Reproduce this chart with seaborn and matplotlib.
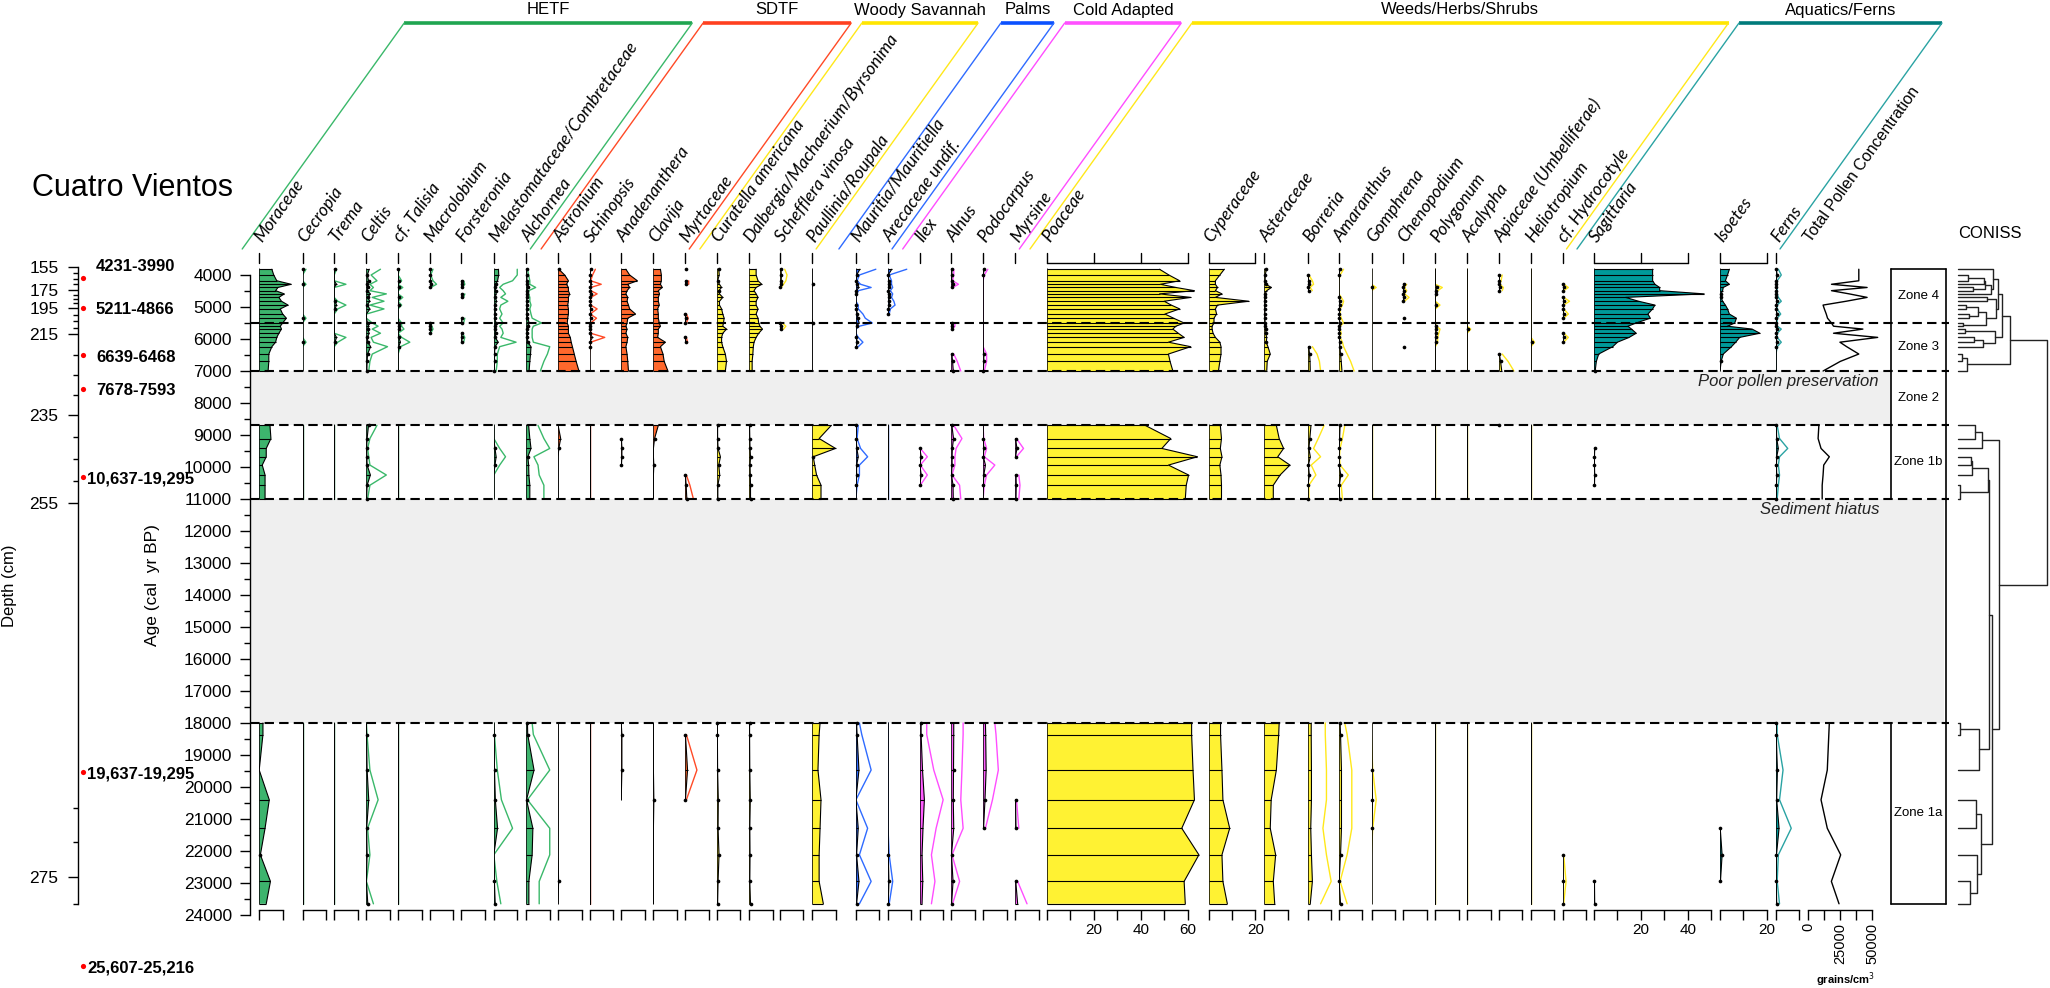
import numpy as np
import matplotlib
matplotlib.use("Agg")
import matplotlib.pyplot as plt
import matplotlib.transforms as mtransforms
import seaborn as sns

sns.set_theme(style="white")
plt.rcParams["font.family"] = ["Liberation Sans", "DejaVu Sans"]
plt.rcParams.update({"text.color": "black", "axes.edgecolor": "black", "xtick.color": "black",
                     "ytick.color": "black", "axes.labelcolor": "black", "axes.linewidth": 1.0})

n = np.nan

# ----------------------------------------------------------------- data
ages = [3820, 4000, 4180, 4290, 4390, 4490, 4590, 4700, 4820, 4940, 5060, 5220,
        5350, 5500, 5600, 5690, 5820, 5950, 6100, 6240, 6470, 6700, 7000,
        8700, 9110, 9420, 9680, 9940, 10250, 10570, 11000,
        18000, 18360, 19470, 20400, 21290, 22120, 22950, 23650]

zone_breaks = [5500, 7000, 8700, 11000, 18000]
zone_names = ["Zone 4", "Zone 3", "Zone 2", "Zone 1b", "Zone 1a"]
zone_spans = [(3820, 5500), (5500, 7000), (7000, 8700), (8700, 11000), (18000, 23650)]
gaps = [(7000, 8700), (11000, 18000)]
gap_notes = ["Poor pollen preservation", "Sediment hiatus"]

depth_model = [155, 175, 195, 215, 235, 255, 265, 270, 275, 280, 285]
age_model = [3763, 4469, 5031, 5853, 8388, 11113, 20666, 21709, 22803, 23656, 25594]
depth_major = [155, 175, 195, 215, 235, 255, 275]
date_depths = [164.6, 195, 220.2, 228.4, 249.2, 263.8, 285]
date_labels = ["4231-3990", "5211-4866", "6639-6468", "7678-7593",
               "10,637-19,295", "19,637-19,295", "25,607-25,216"]

moraceae = ([5.4, 6.2, 7.5, 13.6, 8.0, 7.0, 10.7, 8.4, 9.5, 12.3, 9.0, 10.0, 11.6, 10.0, 9.0, 9.5, 8.4, 7.5, 7.0, 5.4, 4.1, 4.1, 3.8]
            + [4.6, 5.0, 3.0, 3.0, 1.3, 2.5, 2.5, 2.5] + [1.6, 1.6, 0.0, 4.3, 2.5, 0.5, 4.8, 3.0])
cecropia = [0.3, 0, 0, 0.3, 0, 0, 0, 0, 0, 0, 0, 0, 0.3, 0, 0, 0, 0, 0, 0.3, 0, 0, 0, 0] + [0] * 8 + [0] * 8
trema = [0.2, 0, 0, 1.0, 0, 0, 0, 0, 0.3, 1.0, 0.3, 0, 0, 0, 0, 0, 0, 1.0, 0.3, 0, 0, 0, 0] + [0] * 8 + [0] * 8
celtis = ([1.2, 0.4, 0.9, 0.3, 0.6, 0.3, 1.7, 0.5, 1.5, 0.3, 1.5, 0, 0, 0.5, 1.0, 0.5, 1.2, 0.4, 0.6, 1.8, 0.5, 0.3, 0.2]
          + [0.9, 0.3, 0.1, 0.2, 0.3, 1.7, 0.3, 0.1] + [0, 0.05, 0.3, 1.0, 0.1, 0.3, 0, 0.6])
talisia = [0.1, 0, 0.3, 0, 0.4, 0, 0, 0.4, 0, 0.3, 0, 0, 0, 0.3, 0.3, 0.5, 0, 0.3, 1.0, 0.2, 0, 0, 0] + [0] * 8 + [0] * 8
macrolobium = [0.3, 0.1, 0.3, 0.6, 0.1, n, n, n, n, n, n, n, n, 0.1, 0.2, 0.3, 0.1, n, n, n, n, n, n] + [n] * 8 + [n] * 8
forsteronia = [n, n, 0.2, 0.3, 0.1, n, 0.3, 0.2, n, n, n, n, 0.3, 0.2, n, n, 0.1, 0.3, 0.2, n, n, n, n] + [n] * 8 + [n] * 8
melasto = ([2.0, 2.1, 1.6, 0.8, 0.5, 0.8, 1.0, 0.6, 1.2, 0.6, 0.5, 0.7, 0.5, 0.8, 0.5, 0.7, 0.8, 0.6, 1.9, 0.5, 0.3, 0.3, 0.2]
           + [0, 0, 0.5, 1.0, 0.5, 0, 0, 0] + [0, 0.05, 0.3, 0.65, 1.6, 0, 0.26, 0.6])
alchornea = ([0.1, 0.2, 0.3, 0.3, 0.8, 0.2, 0.2, 0.3, 0.3, 0.4, 0.3, 0.4, 0.5, 1.3, 0.6, 0.5, 0.5, 0.5, 0.6, 2.0, 1.8, 1.5, 1.2]
             + [1.0, 1.5, 2.0, 0.65, 1.0, 1.1, 1.5, 1.5] + [0.5, 0.6, 3.3, 0.1, 2.8, 2.5, 1.1, 1.1])
astronium = ([0.3, 2.8, 4.4, 3.6, 4.4, 4.4, 4.9, 4.4, 4.4, 4.1, 4.4, 4.4, 4.1, 3.9, 4.4, 4.4, 4.4, 5.2, 5.6, 6.1, 6.9, 7.7, 8.9]
             + [0, 1.1, 0.3, 0, 0, 0, 0, 0] + [0, 0, 0, 0, 0, 0, 0.2, 0])
schinopsis = ([0.5, 0.26, 0.1, 1.0, 0.1, 0.1, 0.65, 0.1, 0.1, 0.1, 0.65, 0.05, 0.6, 0.1, 0.05, 0.1, 0.1, 1.3, 0.1, 0.05, 0, 0, 0]
              + [0] * 8 + [0] * 8)
anadenanthera = ([2.0, 3.6, 6.9, 2.8, 3.6, 2.5, 2.0, 2.8, 2.5, 3.1, 3.6, 6.1, 2.8, 2.5, 2.0, 2.5, 2.0, 2.8, 2.5, 2.0, 2.5, 2.8, 3.1]
                 + [n, 0.1, 0.3, 0.3, 0.1, n, n, n] + [0, 0.3, 0.3, 0, n, n, n, n])
clavija = ([3.0, 3.4, 3.4, 3.0, 3.8, 2.1, 2.6, 2.1, 2.1, 2.5, 1.8, 2.1, 2.1, 2.5, 3.0, 2.1, 2.1, 1.8, 5.1, 3.0, 4.1, 4.6, 6.2]
           + [2.1, 0.5, 0, 0, 0.2, 0, 0, 0] + [0, 0, 0, 0.2, 0, 0, 0, 0])
myrtaceae = ([0.15, n, 0.3, 0.3, n, n, n, n, n, n, n, 0.1, 0.26, 0.1, n, n, n, 0.1, 0.2, n, n, n, n]
             + [n, n, n, n, n, 0.1, 0.4, 0.7] + [n, 0.1, 1.0, 0.1, n, n, n, n])
curatella = ([0.8, 1.0, 0.3, 1.1, 2.0, 0.8, 1.1, 2.5, 1.1, 1.1, 2.0, 2.5, 3.1, 2.8, 2.5, 4.1, 2.5, 2.0, 2.0, 2.5, 3.6, 4.1, 3.6]
             + [0.3, 0.3, 0.5, 1.5, 0.8, 1.2, 0.4, 0.4] + [0.2, 0.2, 0.3, 0.6, 0.5, 0.9, 0.5, 0.3])
dalbergia = ([3.0, 3.0, 3.8, 5.4, 3.0, 2.1, 3.0, 3.8, 3.0, 3.0, 3.8, 3.0, 3.8, 4.1, 4.6, 5.7, 4.1, 3.0, 2.1, 1.8, 1.6, 1.3, 1.3]
             + [0.2, 0.3, 0.4, 0.6, 0.4, 0.5, 0.6, 0.6] + [0.2, 0.2, 0.3, 0.5, 0.3, 0.4, 0.3, 0.6])
schefflera = [0.4, 0.6, 0.5, 0.3, 0.1, n, n, n, n, n, n, n, n, 0.2, 0.5, 0.3, n, n, n, n, n, n, n] + [n] * 8 + [n] * 8
paullinia = ([0, 0, 0, 0.2, 0, 0, 0, 0, 0, 0, 0, 0, 0, 0.2, 0, 0, 0, 0, 0, 0, 0, 0, 0]
             + [8.2, 3.0, 10.0, 0.5, 1.1, 1.9, 3.8, 3.8] + [3.4, 3.0, 2.5, 3.8, 3.4, 3.0, 3.0, 4.8])
mauritia = ([1.7, 0.3, 0.1, 0.4, 1.3, 0.2, 0.1, 0, 0, 0.2, 0.2, 0.6, 0.8, 1.4, 0.3, 0, 0, 0.2, 0.6, 0.2, n, n, n]
            + [0.2, 0.1, 0.4, 1.0, 0.3, 0.3, 0.1, 0] + [0.3, 0.5, 1.3, 0, 1.0, 0.3, 1.3, 0.3])
arecaceae = ([1.6, 0.1, 0.3, 0.3, 0.4, 0.2, 0.4, 0.3, 0.5, 0.6, 0.2, 0.1, n, n, n, n, n, n, n, n, n, n, n]
             + [0] * 8 + [0, 0, 0, 0, 0, 0.1, 0.4, 0.1])
ilex = [n] * 23 + [n, n, 0.05, 0.65, 0.05, 0.65, 0.05, n] + [0.6, 0.6, 1.2, 2.0, 1.4, 1.0, 1.3, 1.0]
alnus = ([0.2, 0.2, 0.1, 0.6, 0.1, n, n, n, n, n, n, n, n, 0.3, 0.3, 0.1, n, n, n, n, 0.2, 0.5, 0.8]
         + [0.2, 0.9, 0.4, 0.3, 0.3, 0.05, 0.7, 0.8] + [1.0, 1.0, 0.9, 0.8, 1.0, 0.05, 0.7, 0.1])
podocarpus = ([0.4, 0.1, 0, 0, 0, 0, 0, 0, 0, 0, 0, 0, 0, 0, 0, 0, 0, 0, 0, 0, 0.3, 0.3, 0.1]
              + [0, 0.05, 0.3, 0.1, 1.0, 0.3, 0.1, 0] + [1.0, 1.1, 1.3, 0.8, 0.2, n, n, n])
myrsine = [n] * 23 + [n, 0.1, 0.7, 0.1, n, 0.3, 0.4, 0.3] + [n, n, n, 0.1, 0.3, n, 0.2, 1.0]
poaceae = ([48, 52, 56.6, 48.4, 55, 62.9, 48, 61.3, 50, 53, 56.6, 50.3, 54, 58.5, 55, 53.7, 56, 58.5, 51.8, 61.3, 51.8, 52.5, 53.7]
           + [41.9, 52.8, 49, 64.2, 51.8, 60.4, 59.4, 59] + [61.7, 61.7, 62.3, 62.9, 57.5, 64.8, 58.5, 59])
cyperaceae = ([6.7, 4.8, 2.9, 2.9, 3.8, 2.9, 5.7, 2.9, 17.1, 3.8, 2.9, 3.4, 2.3, 2.3, 1.5, 1.5, 1.9, 2.9, 4.8, 5.3, 5.3, 4.8, 4.2]
              + [5.0, 5.5, 5.0, 5.7, 4.8, 5.3, 5.5, 5.5] + [5.1, 5.1, 5.7, 6.1, 9.0, 5.7, 6.1, 8.0])
asteraceae = ([0.8, 0.4, 0.3, 0.6, 3.0, 1.0, 0.3, 0.3, 0.3, 0.2, 0.2, 0.2, 0.2, 0.3, 0.3, 0.8, 0.5, 1.0, 0.8, 1.5, 2.5, 1.2, 1.0]
              + [5.1, 6.3, 8.2, 5.7, 10.9, 6.7, 3.8, 3.8] + [6.3, 6.1, 5.1, 2.9, 2.5, 4.8, 3.8, 4.4])
borreria = ([n, 0.1, 0.4, 0.5, 0.2, 0.4] + [n] * 13 + [0.4, 0.8, 1.0, 1.1]
            + [1.4, 0.9, 0.5, 1.1, 0.3, 0.7, 0.1, 0.1] + [1.5, 1.5, 1.6, 1.6, 1.3, 1.6, 2.0, 1.1])
amaranthus = ([0.4, 0.1, 0, 0, 0, 0, 0, 0.2, 0.4, 0.3, 0.1, 0.1, 0.2, 0.4, 0.1, 0.1, 0.2, 0.1, 0.3, 0.4, 0.7, 1.0, 1.3]
              + [0.5, 0.3, 0.1, 0.05, 0.1, 0.8, 0.2, 0.3] + [0.5, 0.7, 1.1, 1.1, 1.1, 0.7, 0.1, 0.7])
gomphrena = [0, 0, 0, 0, 0.4] + [0] * 18 + [0] * 8 + [0, 0, 0.1, 0.4, 0.1, 0, 0, 0]
chenopodium = [n, n, n, 0.3, 0.1, 0.3, 0.1, 0.5, 0.1, n, n, n, 0.4, n, n, n, n, n, n, 0.2, n, n, n] + [n] * 8 + [n] * 8
polygonum = [0, 0, 0, 0, 0.6, 0.2, 0.1, 0, 0, 0.4, 0, 0, 0, 0, 0.1, 0.4, 0.3, 0.2, 0.2, 0, 0, 0, 0] + [0] * 8 + [0] * 8
acalypha = [0] * 15 + [0.3] + [0] * 7 + [0] * 8 + [0] * 8
apiaceae = [n, 0.3, 0.2, 0.1, 0.4, 0.3] + [n] * 14 + [0.3, 0.8, 1.3] + [0.1] + [n] * 7 + [n] * 8
heliotropium = [0] * 18 + [0.3] + [0] * 4 + [0] * 8 + [0] * 8
hydrocotyle = ([n, n, n, 0.1, 0.5, 0.1, n, 0.1, 0.6, 0.1, 0.1, 0.5, 0.1, n, n, n, 0.1, 0.5, 0.1, n, n, n, n]
               + [n] * 8 + [n, n, n, n, n, 0.1, 0.3, 0.1])
sagittaria = ([25, 25, 25, 26, 28, 28, 47, 13.5, 19, 26, 25, 23, 24, 18, 14.5, 16, 18, 15, 10, 8, 2, 1, 0.5]
              + [n, n, 0.3, 0.2, 0.2, 0.3, 0.2, n] + [n, n, n, n, n, n, 0.2, 0.3])
isoetes = ([4, 3.2, 2.3, 4, 1.4, 1.1, 0.5, 0.5, 1.1, 2.3, 3.2, 4, 7, 6.3, 3.2, 13.7, 17, 8.4, 6.7, 4.9, 1.4, 0.5, 0]
           + [n] * 8 + [n, n, n, n, 0.1, 0.9, 0.2, n])
ferns = ([0.2, 0.45, 0.1, 0.1, 0.1, 0.1, 0.1, 0.2, 0.45, 0.1, 0.1, 0.4, 0.1, 0.1, 0.1, 0.45, 0.1, 0.1, 0.45, 0.1, 0, 0, 0]
         + [0.1, 0.3, 1.0, 0.3, 0.2, 0.3, 0.2, 0.1] + [0.1, 0.1, 0.6, 0.3, 1.3, 0.2, 0.1, 0.3])
total_pollen = ([39500, 39500, 39500, 18100, 46000, 18100, 32000, 46000, 29600, 11500, 12500, 14000, 15000,
                 18100, 19700, 42700, 19700, 54300, 24700, 30000, 39500, 25000, 11500]
                + [8200, 7600, 9900, 16400, 12000, 11500, 10800, 10800]
                + [16400, 16000, 14800, 9900, 14800, 25300, 18000, 24000])

taxa_names = ["Moraceae", "Cecropia", "Trema", "Celtis", "cf. Talisia", "Macrolobium", "Forsteronia",
              "Melastomataceae/Combretaceae", "Alchornea", "Astronium", "Schinopsis", "Anadenanthera",
              "Clavija", "Myrtaceae", "Curatella americana", "Dalbergia/Machaerium/Byrsonima",
              "Schefflera vinosa", "Paullinia/Roupala", "Mauritia/Mauritiella", "Arecaceae undif.",
              "Ilex", "Alnus", "Podocarpus", "Myrsine", "Poaceae", "Cyperaceae", "Asteraceae", "Borreria",
              "Amaranthus", "Gomphrena", "Chenopodium", "Polygonum", "Acalypha", "Apiaceae (Umbelliferae)",
              "Heliotropium", "cf. Hydrocotyle", "Sagittaria", "Isoetes", "Ferns"]
taxa_values = [moraceae, cecropia, trema, celtis, talisia, macrolobium, forsteronia, melasto, alchornea,
               astronium, schinopsis, anadenanthera, clavija, myrtaceae, curatella, dalbergia, schefflera,
               paullinia, mauritia, arecaceae, ilex, alnus, podocarpus, myrsine, poaceae, cyperaceae,
               asteraceae, borreria, amaranthus, gomphrena, chenopodium, polygonum, acalypha, apiaceae,
               heliotropium, hydrocotyle, sagittaria, isoetes, ferns]
groups = ["HETF", "SDTF", "Woody Savannah", "Palms", "Cold Adapted", "Weeds/Herbs/Shrubs", "Aquatics/Ferns"]
group_sizes = [9, 5, 4, 2, 4, 12, 3]
exaggerated = {"Cecropia", "Trema", "Celtis", "cf. Talisia", "Macrolobium", "Forsteronia",
               "Melastomataceae/Combretaceae", "Alchornea", "Schinopsis", "Myrtaceae", "Schefflera vinosa",
               "Mauritia/Mauritiella", "Arecaceae undif.", "Ilex", "Alnus", "Podocarpus", "Myrsine",
               "Borreria", "Amaranthus", "Gomphrena", "Chenopodium", "Polygonum", "Acalypha",
               "Apiaceae (Umbelliferae)", "Heliotropium", "cf. Hydrocotyle", "Ferns"}
bottom_scale = {"Poaceae": (60, 10, [20, 40, 60]), "Cyperaceae": (20, 10, [20]),
                "Sagittaria": (50, 10, [20, 40]), "Isoetes": (20, 10, [20])}
top_scale = {"Poaceae": [0, 20, 40, 60], "Cyperaceae": [0, 20], "Sagittaria": [0, 20, 40], "Isoetes": [0, 20]}
total_ticks = [0, 12500, 25000, 37500, 50000]
total_labels = ["0", "", "25000", "", "50000"]

# ----------------------------------------------------------------- style / layout
group_fill = {"HETF": "#3db46d", "SDTF": "#ff682c", "Woody Savannah": "#fff233", "Palms": "#2f6bff",
              "Cold Adapted": "#ff5cff", "Weeds/Herbs/Shrubs": "#fff233", "Aquatics/Ferns": "#009a9a"}
group_line = {"HETF": "#3ab86a", "SDTF": "#ff4a26", "Woody Savannah": "#ffe81a", "Palms": "#2f6bff",
              "Cold Adapted": "#ff4dff", "Weeds/Herbs/Shrubs": "#ffe81a", "Aquatics/Ferns": "#2aa3a3"}
group_bar = {"HETF": "#1fa550", "SDTF": "#ff4020", "Woody Savannah": "#ffe600", "Palms": "#0a50ff",
             "Cold Adapted": "#ff50ff", "Weeds/Herbs/Shrubs": "#ffe600", "Aquatics/Ferns": "#007b7b"}

col_x = [259.2, 302.5, 334.2, 366.4, 398.1, 429.5, 461.3, 493.8, 526.3, 558.1, 589.5, 621.2, 653.4,
         685.2, 716.9, 749.1, 780.0, 812.1, 855.9, 888.0, 919.7, 951.4, 983.1, 1015.3, 1047.0, 1208.6,
         1264.4, 1307.7, 1338.9, 1371.5, 1403.2, 1435.3, 1467.2, 1498.7, 1531.0, 1562.5, 1594.0,
         1720.0, 1776.0]
total_x = 1808.4
PX_PCT = 2.344
PX_GRAIN = 31.9 / 25000
ZL, ZR = 1890.5, 1946.4
COL_TOP, COL_BOT = 263, 910
W, H = 2050, 988
Y0, K = 275.0, 0.032
DIAG_DX, BAR_Y, DIAG_Y = 162, 23, 249
LABEL_ROT = float(np.degrees(np.arctan2(DIAG_Y - BAR_Y, DIAG_DX)))

fig = plt.figure(figsize=(W / 100, H / 100), dpi=100)
fig.patch.set_facecolor("white")


def ypx(a):
    return Y0 + (np.asarray(a, float) - 4000.0) * K


def age_at(px):
    return 4000.0 + (px - Y0) / K


def add_ax(x0, x1, top_px, bot_px, z):
    ax = fig.add_axes([x0 / W, 1 - bot_px / H, (x1 - x0) / W, (bot_px - top_px) / H])
    ax.set_ylim(age_at(bot_px), age_at(top_px))
    ax.patch.set_visible(False)
    ax.set_zorder(z)
    for s in ax.spines.values():
        s.set_visible(False)
    ax.set_xticks([])
    ax.set_yticks([])
    ax.grid(False)
    return ax


bg = add_ax(0, W, 0, H, 0)
bg.set_xlim(0, W)
fg = add_ax(0, W, 0, H, 5)
fg.set_xlim(0, W)
ov = fig.add_axes([0, 0, 1, 1])
ov.set_xlim(0, W)
ov.set_ylim(H, 0)
ov.axis("off")
ov.patch.set_visible(False)
ov.set_zorder(6)

# gray bands, dashed zone lines, zone box
for (g0, g1), xr, note in zip(gaps, [ZL, ZR - 2], gap_notes):
    bg.fill_between([250, xr], g0, g1, color="#efefef", lw=0)
    ov.text(1879, ypx(g0) + 3, note, ha="right", va="top", fontsize=12, fontstyle="italic", color="#222")
fg.hlines(zone_breaks, 250, 1949, colors="black", linestyles=[(0, (4.5, 2.5))], lw=1.5)
top_a, bot_a = ages[0], ages[-1]
zk = dict(color="black", lw=1.2)
fg.plot([ZL, ZR], [top_a, top_a], **zk)
fg.plot([ZL, ZL], [top_a, gaps[1][0]], **zk)
fg.plot([ZR, ZR], [top_a, bot_a], **zk)
fg.plot([ZL, ZL], [gaps[1][1], bot_a], **zk)
fg.plot([ZL, ZR], [bot_a, bot_a], **zk)
for name, (a0, a1) in zip(zone_names, zone_spans):
    fg.text((ZL + ZR) / 2, (a0 + a1) / 2, name, ha="center", va="center", fontsize=9.5)

# segments of the record (broken at gaps)
ages_arr = np.array(ages, float)
splits = [i + 1 for i in range(len(ages) - 1)
          if any(ages[i] <= g0 and ages[i + 1] >= g1 for g0, g1 in gaps)]
segments = np.split(np.arange(len(ages)), splits)

taxa_groups = sum([[g] * s for g, s in zip(groups, group_sizes)], [])
xs_next = col_x + [total_x]


def top_marks(ax, ticks):
    tr = mtransforms.blended_transform_factory(ax.transData, ov.transData)
    for t in ticks:
        ax.plot([t, t], [253, 263], color="black", lw=1, transform=tr, clip_on=False)
    if len(ticks) > 1:
        ax.plot([ticks[0], ticks[-1]], [263, 263], color="black", lw=1, transform=tr, clip_on=False)


for i, (name, vals, grp) in enumerate(zip(taxa_names, taxa_values, taxa_groups)):
    x0, x1 = col_x[i], xs_next[i + 1] - 1
    ax = add_ax(x0, x1, COL_TOP, COL_BOT, 2)
    ax.set_xlim(0, (x1 - x0) / PX_PCT)
    v_all = np.array(vals, float)
    fc, lc = group_fill[grp], group_line[grp]
    for seg in segments:
        v, a = v_all[seg], ages_arr[seg]
        ok = ~np.isnan(v)
        ax.fill_betweenx(a, 0, np.nan_to_num(v), where=ok, facecolor=fc, edgecolor="none", lw=0)
        if name in exaggerated:
            ax.plot(np.minimum(v * 5, 10), a, color=lc, lw=1.0)
        pos = ok & (np.nan_to_num(v) > 0)
        ax.hlines(a[pos], 0, v[pos], colors="black", lw=0.8)
        ax.plot(v, a, color="black", lw=0.8)
        ax.plot(np.where(ok, 0.0, np.nan), a, color="black", lw=1.1)
        dots = pos & (np.nan_to_num(v) < 1)
        ax.scatter(v[dots], a[dots], s=7, color="black", linewidths=0, zorder=4, clip_on=False)
    br, step, labs = bottom_scale.get(name, (10, 10, []))
    ticks = list(range(0, br + 1, step))
    ax.spines["bottom"].set_visible(True)
    ax.spines["bottom"].set_bounds(0, br)
    ax.set_xticks(ticks)
    ax.set_xticklabels([str(t) if t in labs else "" for t in ticks])
    ax.tick_params(axis="x", bottom=True, direction="out", length=7, width=1, pad=2, labelsize=11)
    top_marks(ax, top_scale.get(name, [0]))
    ov.text(x0 + 3, 243, name, rotation=LABEL_ROT, rotation_mode="anchor", ha="left", va="baseline",
            fontsize=12.5, fontstyle="italic", family=["Lato", "DejaVu Sans"])

# total pollen concentration
axt = add_ax(total_x, ZL - 2, COL_TOP, COL_BOT, 2)
axt.set_xlim(0, (ZL - 2 - total_x) / PX_GRAIN)
tp = np.array(total_pollen, float)
for seg in segments:
    sns.lineplot(x=tp[seg], y=ages_arr[seg], orient="y", sort=False, estimator=None,
                 color="black", lw=1.0, ax=axt, legend=False)
axt.set_ylim(age_at(COL_BOT), age_at(COL_TOP))
axt.set_xlabel("")
axt.set_ylabel("")
axt.set_yticks([])
axt.spines["bottom"].set_visible(True)
axt.spines["bottom"].set_bounds(0, 50000)
axt.set_xticks(total_ticks)
axt.set_xticklabels(total_labels, rotation=90)
axt.tick_params(axis="x", bottom=True, direction="out", length=7, width=1, pad=2, labelsize=10.5)
ov.text(total_x + 3, 243, "Total Pollen Concentration", rotation=LABEL_ROT, rotation_mode="anchor",
        ha="left", va="baseline", fontsize=11.5)
ov.text(total_x + 37, 980, "grains/cm$^3$", ha="center", va="center", fontsize=8, fontweight="bold")

# group headers
start = 0
for g, s in zip(groups, group_sizes):
    bl = col_x[start] - 17
    brx = col_x[start + s - 1] + 4
    ov.plot([bl + DIAG_DX, brx + DIAG_DX], [BAR_Y, BAR_Y], color=group_bar[g], lw=2.6, solid_capstyle="butt")
    ov.plot([bl + DIAG_DX, bl], [BAR_Y, DIAG_Y], color=group_line[g], lw=1.0)
    ov.plot([brx + DIAG_DX, brx], [BAR_Y, DIAG_Y], color=group_line[g], lw=1.0)
    ov.text((bl + brx) / 2 + DIAG_DX, 10, g, ha="center", va="center", fontsize=12)
    start += s

# age axis
aa = add_ax(250, 260, 0, H, 2)
aa.spines["left"].set_visible(True)
aa.spines["left"].set_bounds(4000, 24000)
aa.set_yticks(range(4000, 24001, 1000))
aa.set_yticks(range(4500, 24000, 1000), minor=True)
aa.tick_params(axis="y", which="major", left=True, direction="out", length=7, width=1, labelsize=12.5, pad=6)
aa.tick_params(axis="y", which="minor", left=True, direction="out", length=4, width=1)
ov.text(153, 585, "Age (cal  yr BP)", rotation=90, ha="center", va="center", fontsize=12.5)

# depth axis
dep = add_ax(78, 88, 0, H, 2)
dep.spines["left"].set_visible(True)
dep.spines["left"].set_bounds(np.interp(155, depth_model, age_model), np.interp(280, depth_model, age_model))
minor_d = [d for d in range(155, 281, 5) if d not in depth_major
           and not (gaps[1][0] < np.interp(d, depth_model, age_model) < gaps[1][1])]
dep.set_yticks(np.interp(depth_major, depth_model, age_model))
dep.set_yticklabels([str(d) for d in depth_major])
dep.set_yticks(np.interp(minor_d, depth_model, age_model), minor=True)
dep.tick_params(axis="y", which="major", left=True, direction="out", length=7, width=1, labelsize=12.5, pad=7)
dep.tick_params(axis="y", which="minor", left=True, direction="out", length=3.5, width=1)
date_ages = np.interp(date_depths, depth_model, age_model)
dep.scatter(np.zeros(len(date_ages)), date_ages, s=14, color="red", linewidths=0, zorder=5, clip_on=False)
for k, (da, lab) in enumerate(zip(date_ages, date_labels)):
    ov.text(87 if len(lab) > 10 else 96, ypx(da) + (-12 if k == 0 else 2), lab, ha="left", va="center",
            fontsize=12, fontweight="bold")
ov.text(10, 586, "Depth (cm)", rotation=90, ha="center", va="center", fontsize=12)

ov.text(32, 188, "Cuatro Vientos", ha="left", va="center", fontsize=22)

# CONISS (constrained incremental sum of squares on sqrt-transformed percentages)
X = np.sqrt(np.nan_to_num(np.array(taxa_values, float)).T / 100.0)
clusters = [dict(n=1, s=X[i].copy(), y=ages[i], x=0.0) for i in range(len(ages))]
links = []
total_ss = 0.0
while len(clusters) > 1:
    best = None
    for k in range(len(clusters) - 1):
        A, B = clusters[k], clusters[k + 1]
        d = A["n"] * B["n"] / (A["n"] + B["n"]) * ((A["s"] / A["n"] - B["s"] / B["n"]) ** 2).sum()
        if best is None or d < best[0]:
            best = (d, k)
    d, k = best
    total_ss += d
    A, B = clusters[k], clusters[k + 1]
    links.append((A["x"], A["y"], B["x"], B["y"], total_ss))
    clusters[k:k + 2] = [dict(n=A["n"] + B["n"], s=A["s"] + B["s"], y=(A["y"] + B["y"]) / 2, x=total_ss)]
axc = add_ax(1957.6, 2047, COL_TOP, COL_BOT, 2)
axc.set_xscale("function", functions=(np.sqrt, np.square))
axc.set_xlim(0, total_ss)
axc.set_xticks([])
for xa, ya, xb, yb, h in links:
    axc.plot([xa, h, h, xb], [ya, ya, yb, yb], color="#222", lw=1.0, clip_on=False)
ov.text(1958, 233, "CONISS", ha="left", va="center", fontsize=12)

fig.savefig("out.png", dpi=100, facecolor="white")
